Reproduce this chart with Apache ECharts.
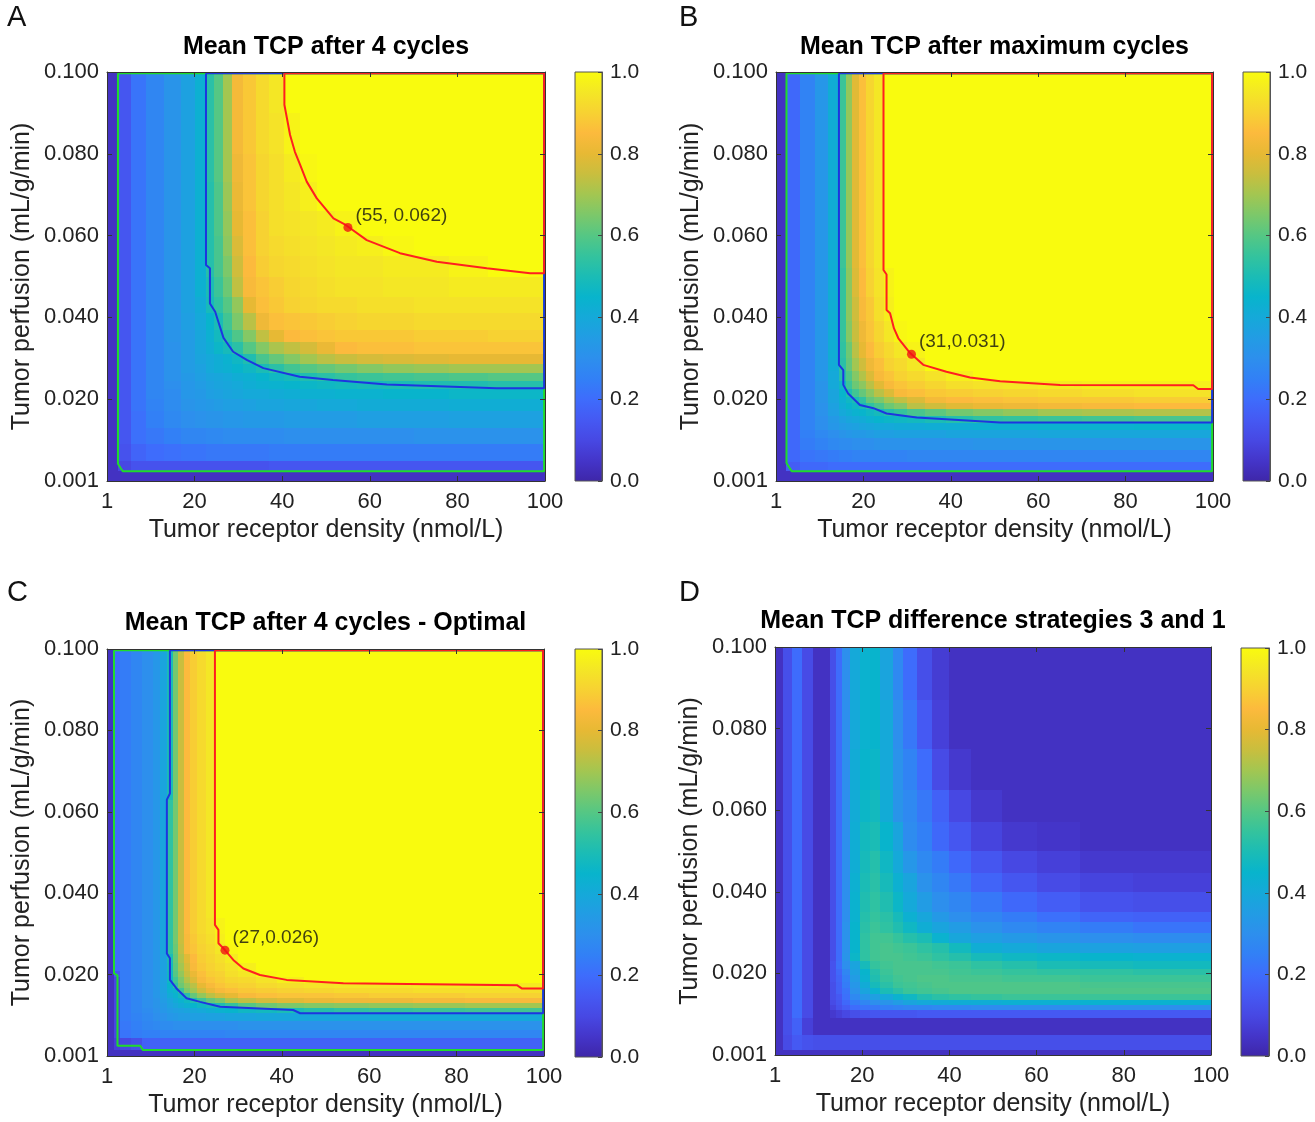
<!DOCTYPE html>
<html>
<head>
<meta charset="utf-8">
<title>Mean TCP maps</title>
<script src="https://cdn.jsdelivr.net/npm/echarts@6/dist/echarts.min.js"></script>
<style>
  html, body { margin: 0; background: #fff; }
  #chart { width: 1315px; height: 1122px; }
</style>
</head>
<body>
<div id="chart"></div>
<script>
// ---- axis ticks ----
const xTickLabels = ['1', '20', '40', '60', '80', '100'];
const yTickLabels = ['0.001', '0.020', '0.040', '0.060', '0.080', '0.100'];
const cbTickLabels = ['0.0', '0.2', '0.4', '0.6', '0.8', '1.0'];

// ---- panel A: mean TCP after 4 cycles (values in %, rows top -> bottom) ----
const xEdgesA = [0, 2.5, 5.5, 9, 13, 17, 20, 22.5, 24.5, 26.5, 28.5, 31, 34, 37, 40.5, 44, 48, 52, 57, 63, 70, 78, 87, 100];
const yEdgesA = [0, 0.0025, 0.005, 0.009, 0.013, 0.017, 0.02, 0.0225, 0.0245, 0.0265, 0.0285, 0.031, 0.034, 0.037, 0.041, 0.045, 0.05, 0.055, 0.06, 0.066, 0.073, 0.08, 0.09, 0.1];
const tcpA = [
  [4,14,22,27,32,37,43,53,60,70,83,88,92,95,100,100,100,100,100,100,100,100,100],
  [4,14,22,27,32,37,43,53,60,70,83,88,92,94,98,100,100,100,100,100,100,100,100],
  [4,14,22,27,32,37,43,53,60,70,82,87,91,93,96,99,100,100,100,100,100,100,100],
  [4,14,22,27,32,37,43,52,59,69,81,87,91,93,95,97,100,100,100,100,100,100,100],
  [4,14,22,27,32,37,43,52,59,68,80,86,90,93,94,95,96,98,100,100,100,100,100],
  [4,14,22,27,32,37,43,52,58,67,78,86,90,92,93,94,95,96,97,99,100,100,100],
  [4,14,22,27,32,37,43,52,58,65,76,85,89,91,92,93,94,95,95,96,96,98,100],
  [4,14,22,27,32,37,43,50,56,63,74,84,87,89,91,92,93,94,94,95,95,96,96],
  [4,14,22,27,32,37,41,49,54,60,68,80,86,88,90,91,92,92,93,93,94,94,94],
  [4,14,22,27,32,36,40,45,50,57,65,73,82,86,87,88,89,90,91,91,92,92,92],
  [4,14,22,27,32,35,39,43,48,53,59,66,74,80,85,86,87,88,88,88,89,89,90],
  [4,14,22,27,31,35,39,42,46,49,53,60,66,71,74,77,81,85,86,86,87,87,87],
  [4,14,22,27,31,35,38,40,42,44,47,51,58,62,66,70,73,75,77,78,79,80,80],
  [4,14,22,27,31,35,37,40,42,43,45,47,50,53,57,60,62,64,66,68,69,70,70],
  [4,14,22,27,31,34,36,38,39,40,42,43,45,47,49,51,53,55,56,57,58,59,60],
  [4,14,22,27,30,33,35,37,38,39,40,42,43,44,45,46,47,48,49,50,51,51,52],
  [4,14,22,27,29,33,34,36,37,38,39,40,40,41,42,43,43,44,44,45,45,46,46],
  [4,14,22,26,29,32,33,34,35,36,36,37,38,38,39,39,40,40,41,41,41,42,42],
  [4,14,21,25,28,30,31,32,32,33,33,34,34,34,35,35,35,35,36,36,36,37,37],
  [4,14,21,23,25,27,27,28,28,29,29,29,29,29,30,30,30,30,30,30,31,31,31],
  [4,13,18,20,21,22,22,23,23,23,23,23,23,24,24,24,24,24,24,24,24,24,24],
  [4,10,13,13,13,13,13,13,13,13,13,13,13,14,14,14,14,14,14,14,14,14,14],
  [4,4,4,4,4,4,4,4,4,4,4,4,4,4,4,4,4,4,4,4,4,4,4]
];
const greenA = [[2.5,0.0997],[2.5,0.0042],[3.2,0.003],[3.6,0.0024],[99.8,0.0024],[99.8,0.0997],[2.5,0.0997]];
const blueA = [[22.6,0.0997],[22.6,0.0528],[23.5,0.052],[23.5,0.0434],[24.7,0.0414],[25.4,0.039],[26.6,0.035],[28.8,0.0316],[31.9,0.0296],[35.7,0.0276],[44,0.0255],[51.6,0.0247],[63.9,0.0236],[89,0.0227],[99.8,0.0227],[99.8,0.0997],[22.6,0.0997]];
const redA = [[40.5,0.0997],[40.5,0.092],[41.8,0.0846],[42.9,0.0805],[44.1,0.0773],[45.6,0.0732],[47.9,0.0691],[51.7,0.0642],[54.5,0.0626],[59.3,0.0589],[66.9,0.0557],[75.3,0.0536],[86.7,0.052],[96.6,0.0508],[99.8,0.0508],[99.8,0.0997],[40.5,0.0997]];
const pointA = [55, 0.062];

// ---- panel B: mean TCP after maximum cycles ----
const xEdgesB = [0, 2.4, 5.5, 9, 12, 14.4, 16, 17.5, 19, 20.5, 22.5, 24.6, 27, 30, 34, 39, 45, 52, 60, 70, 82, 100];
const yEdgesB = [0, 0.0024, 0.0047, 0.0075, 0.0105, 0.0125, 0.0143, 0.016, 0.0175, 0.019, 0.0205, 0.0225, 0.0245, 0.027, 0.03, 0.034, 0.039, 0.045, 0.052, 0.06, 0.07, 0.085, 0.1];
const tcpB = [
  [4,19,26,33,42,56,68,79,86,91,95,100,100,100,100,100,100,100,100,100,100],
  [4,19,26,33,42,56,68,79,86,91,95,100,100,100,100,100,100,100,100,100,100],
  [4,19,26,33,42,56,68,79,86,91,95,100,100,100,100,100,100,100,100,100,100],
  [4,19,26,33,42,56,68,79,86,91,95,100,100,100,100,100,100,100,100,100,100],
  [4,19,26,33,42,55,67,78,85,90,94,98,100,100,100,100,100,100,100,100,100],
  [4,19,26,33,42,55,67,76,84,88,93,97,100,100,100,100,100,100,100,100,100],
  [4,19,26,33,42,55,66,75,82,87,91,95,99,100,100,100,100,100,100,100,100],
  [4,19,26,33,42,54,63,73,80,85,89,92,95,98,100,100,100,100,100,100,100],
  [4,19,26,33,41,53,62,70,76,82,86,90,92,95,100,100,100,100,100,100,100],
  [4,19,26,33,40,52,59,66,72,78,84,87,90,92,94,97,100,100,100,100,100],
  [4,19,26,32,40,47,56,63,67,73,79,84,87,89,91,93,94,95,96,97,97],
  [4,19,26,32,38,45,51,57,62,67,73,78,84,86,88,89,90,91,92,93,94],
  [4,19,26,32,38,43,47,50,54,62,65,70,74,78,83,85,86,87,88,88,89],
  [4,19,26,31,37,42,45,47,50,54,58,63,66,73,76,79,81,82,83,84,85],
  [4,19,26,31,36,40,42,44,45,47,49,52,55,58,61,64,66,68,70,71,72],
  [4,19,26,30,34,37,39,40,41,43,45,46,47,48,50,52,54,55,56,57,58],
  [4,19,26,30,33,35,36,37,38,39,40,40,41,41,42,42,43,43,44,44,45],
  [4,19,25,28,30,32,33,34,34,35,36,36,37,37,37,38,38,38,39,39,39],
  [4,19,24,26,28,29,29,30,30,30,31,31,31,31,31,31,32,32,32,32,32],
  [4,19,22,23,24,25,25,26,26,26,26,26,26,27,27,27,27,27,27,27,27],
  [4,16,19,19,20,20,20,20,20,20,20,20,20,20,20,20,20,20,20,20,20],
  [4,4,4,4,4,4,4,4,4,4,4,4,4,4,4,4,4,4,4,4,4]
];
const greenB = [[2.4,0.0997],[2.4,0.0044],[3.6,0.0024],[99.8,0.0024],[99.8,0.0997],[2.4,0.0997]];
const blueB = [[14.4,0.0997],[14.4,0.0284],[15.4,0.0271],[15.4,0.0235],[16.5,0.0214],[19.2,0.0186],[22.3,0.0178],[25.3,0.0165],[32.2,0.0155],[51.3,0.0143],[99.8,0.0143],[99.8,0.0997],[14.4,0.0997]];
const redB = [[24.6,0.0997],[24.6,0.0516],[25.3,0.0505],[25.3,0.0418],[26.1,0.041],[27,0.0373],[28,0.0349],[30.5,0.0315],[33.7,0.0284],[39,0.0267],[44.4,0.0253],[51.3,0.0244],[65,0.0235],[95.5,0.0234],[96.6,0.0225],[99.8,0.0225],[99.8,0.0997],[24.6,0.0997]];
const pointB = [31, 0.031];

// ---- panel C: mean TCP after 4 cycles - optimal ----
const xEdgesC = [0, 1.6, 3, 5.5, 8, 10.5, 12.2, 13.7, 15, 16.3, 17.6, 19, 20.7, 22.6, 24.7, 27, 30, 34, 39, 45, 52, 60, 70, 82, 100];
const yEdgesC = [0, 0.0015, 0.0043, 0.0065, 0.0085, 0.0105, 0.0117, 0.0129, 0.0142, 0.0155, 0.0166, 0.018, 0.0195, 0.021, 0.0228, 0.025, 0.0275, 0.03, 0.034, 0.039, 0.045, 0.053, 0.063, 0.075, 0.087, 0.1];
const tcpC = [
  [4,20,24,27,30,33,38,50,64,75,85,89,92,95,100,100,100,100,100,100,100,100,100,100],
  [4,20,24,27,30,33,38,50,64,75,85,89,92,95,100,100,100,100,100,100,100,100,100,100],
  [4,20,24,27,30,33,38,50,64,75,85,89,92,95,100,100,100,100,100,100,100,100,100,100],
  [4,20,24,27,30,33,38,54,64,75,85,89,92,95,100,100,100,100,100,100,100,100,100,100],
  [4,20,24,27,30,33,38,54,64,75,85,89,92,95,100,100,100,100,100,100,100,100,100,100],
  [4,20,24,27,30,33,38,54,64,75,85,89,92,95,100,100,100,100,100,100,100,100,100,100],
  [4,20,24,27,30,33,38,54,64,75,85,89,92,95,100,100,100,100,100,100,100,100,100,100],
  [4,20,24,27,30,33,38,54,64,75,85,89,92,94,98,100,100,100,100,100,100,100,100,100],
  [4,20,24,27,30,33,38,54,64,75,84,88,91,93,97,100,100,100,100,100,100,100,100,100],
  [4,20,24,27,30,33,38,54,63,74,84,87,90,92,95,99,100,100,100,100,100,100,100,100],
  [4,20,24,27,30,33,37,50,62,72,79,85,89,91,93,96,100,100,100,100,100,100,100,100],
  [4,20,24,27,30,33,37,49,61,70,77,84,88,90,92,94,97,100,100,100,100,100,100,100],
  [4,14,24,27,30,33,37,48,60,68,75,81,86,89,90,93,95,99,100,100,100,100,100,100],
  [4,10,24,27,30,33,37,47,57,65,72,78,84,87,89,91,92,94,97,100,100,100,100,100],
  [4,10,24,27,30,33,37,45,54,63,68,73,80,84,87,89,90,92,93,94,95,95,96,96],
  [4,10,24,27,30,33,37,43,46,56,65,70,76,81,84,86,88,89,90,91,92,92,93,93],
  [4,10,24,27,30,33,36,41,44,48,53,62,68,73,77,80,84,86,87,87,88,89,89,90],
  [4,10,24,27,30,32,35,38,41,44,47,51,57,62,65,71,74,77,79,81,82,82,83,84],
  [4,10,24,27,30,32,34,37,39,41,43,45,47,49,51,55,60,63,65,66,67,68,69,70],
  [4,10,24,27,29,31,33,35,36,37,38,39,40,42,44,45,47,48,50,52,54,55,56,57],
  [4,10,24,26,28,30,31,33,34,35,35,36,36,37,37,38,38,39,39,39,39,40,40,40],
  [4,10,23,25,27,28,29,29,30,30,30,30,30,30,30,30,31,31,31,31,31,31,31,31],
  [4,10,22,24,25,25,26,26,26,26,26,26,26,26,26,27,27,27,27,27,27,27,27,27],
  [4,8,10,12,17,17,17,17,17,17,17,17,17,17,17,17,17,17,17,17,17,17,17,17],
  [4,4,4,4,4,4,4,4,4,4,4,4,4,4,4,4,4,4,4,4,4,4,4,4]
];
const greenC = [[1.6,0.0997],[1.6,0.0203],[2.4,0.0198],[2.4,0.0025],[7.6,0.0025],[8.2,0.0015],[99.8,0.0015],[99.8,0.0997],[1.6,0.0997]];
const blueC = [[14.4,0.0997],[14.4,0.0645],[13.7,0.063],[13.7,0.0252],[14.4,0.024],[14.4,0.0187],[15.9,0.0166],[18.2,0.0142],[21.3,0.0133],[25.9,0.0121],[42.6,0.0113],[44.2,0.0105],[99.8,0.0105],[99.8,0.0997],[14.4,0.0997]];
const redC = [[24.7,0.0997],[24.7,0.0322],[25.5,0.031],[25.5,0.0277],[26.6,0.0265],[28.9,0.0236],[31.2,0.0215],[35,0.0199],[41.1,0.0187],[54.1,0.0179],[93.8,0.0174],[94.9,0.0166],[99.8,0.0166],[99.8,0.0997],[24.7,0.0997]];
const pointC = [27, 0.026];

// ---- panel D: TCP difference strategies 3 and 1 ----
const xEdgesD = [0, 1.9, 3.8, 6.1, 8.8, 12.6, 14.1, 15.3, 17.2, 19.5, 21.8, 24.1, 27, 29.4, 32.5, 36, 40, 45, 52, 60, 70, 82, 100];
const yEdgesD = [0, 0.0012, 0.0049, 0.009, 0.011, 0.0123, 0.0135, 0.015, 0.0165, 0.018, 0.0195, 0.021, 0.023, 0.025, 0.0275, 0.03, 0.0325, 0.035, 0.04, 0.0445, 0.05, 0.057, 0.065, 0.075, 0.087, 0.1];
const tcpD = [
  [4,12,20,11,4,12,20,30,40,44,45,38,28,20,12,7,4,4,4,4,4,4],
  [4,12,20,11,4,12,20,30,40,44,45,40,30,23,15,8,4,4,4,4,4,4],
  [4,12,20,11,4,12,20,30,41,45,46,40,31,26,20,11,6,4,4,4,4,4],
  [4,12,20,11,4,12,20,30,41,46,48,41,32,28,23,17,10,6,4,4,4,4],
  [4,12,20,11,4,12,20,30,42,48,50,45,38,29,25,19,14,9,6,5,4,4],
  [4,12,20,11,4,12,20,30,42,49,52,47,40,33,28,24,19,14,10,8,6,6],
  [4,12,20,11,4,12,20,30,43,50,53,49,43,38,31,27,23,18,14,11,9,8],
  [4,12,20,11,4,12,20,30,44,51,54,51,46,40,35,30,27,23,19,16,13,12],
  [4,12,20,11,4,12,20,30,44,52,55,53,49,43,39,34,30,27,24,21,18,17],
  [4,12,20,11,4,12,20,31,45,53,56,54,51,47,42,38,35,31,28,26,24,22],
  [4,12,20,11,4,12,20,31,45,54,57,57,55,52,50,44,39,36,34,32,30,29],
  [4,12,20,11,4,12,20,31,45,54,57,58,57,56,54,52,48,42,40,38,37,36],
  [4,12,20,11,4,12,20,32,46,54,57,58,58,57,56,54,52,49,47,46,45,44],
  [4,12,20,11,4,13,21,30,38,49,55,57,58,58,58,57,56,54,52,50,49,48],
  [4,12,20,11,4,13,19,27,37,45,52,56,58,58,58,58,57,56,55,54,54,53],
  [4,12,20,11,4,13,18,25,35,44,51,55,57,58,59,59,58,58,57,57,56,56],
  [4,12,20,11,4,12,17,24,33,41,49,53,56,57,58,59,59,59,59,59,58,58],
  [4,12,20,11,4,12,17,22,31,38,44,50,53,56,57,58,59,59,59,59,59,59],
  [4,12,20,11,4,12,15,21,28,33,36,40,44,47,51,53,54,55,56,56,56,56],
  [4,12,20,11,4,11,14,19,24,27,30,32,35,38,40,41,42,42,43,43,44,44],
  [4,12,20,11,4,9,13,16,20,22,23,25,26,27,27,28,28,29,29,29,30,30],
  [4,12,20,11,4,6,8,10,12,13,14,14,14,14,15,15,15,15,15,15,15,15],
  [4,12,17,8,4,4,4,4,4,4,4,4,4,4,4,4,4,4,4,4,4,4],
  [4,11,15,13,12,12,12,12,12,12,12,12,12,12,12,12,12,12,12,12,12,12],
  [4,4,4,4,4,4,4,4,4,4,4,4,4,4,4,4,4,4,4,4,4,4]
];

// parula-like colormap, 0 -> 1 in steps of 0.05
const parula = ['#3e26a8','#4435c9','#4748e3','#4559f3','#3e6cfc','#3280f6','#2d8fed','#229ce4','#15a9d9','#08b4cc',
  '#1bbcb5','#34c39d','#55c784','#7cc86a','#a3c651','#c9be3e','#e7b934','#fcba3d','#f7d232','#f4e725','#f9fb0e'];
const contourColors = ['#1fdc2a', '#1d35e0', '#ff1f1f'];

const FONT = '"Liberation Sans", Arial, Helvetica, sans-serif';
const xName = 'Tumor receptor density (nmol/L)';
const yName = 'Tumor perfusion (mL/g/min)';

const panels = [
  { letter: 'A', title: 'Mean TCP after 4 cycles', rect: [107, 72, 438, 409], bar: [575, 72, 27, 409], letterPos: [7, 3],
    titleGap: 12, xEdges: xEdgesA, yEdges: yEdgesA, rows: tcpA, lines: [greenA, blueA, redA], point: pointA, label: '(55, 0.062)' },
  { letter: 'B', title: 'Mean TCP after maximum cycles', rect: [776, 72, 437, 409], bar: [1243, 72, 27, 409], letterPos: [679, 3],
    titleGap: 12, xEdges: xEdgesB, yEdges: yEdgesB, rows: tcpB, lines: [greenB, blueB, redB], point: pointB, label: '(31,0.031)' },
  { letter: 'C', title: 'Mean TCP after 4 cycles - Optimal', rect: [107, 649, 437, 407], bar: [575, 649, 27, 408], letterPos: [7, 578],
    titleGap: 13, xEdges: xEdgesC, yEdges: yEdgesC, rows: tcpC, lines: [greenC, blueC, redC], point: pointC, label: '(27,0.026)' },
  { letter: 'D', title: 'Mean TCP difference strategies 3 and 1', rect: [775, 647, 436, 408], bar: [1241, 648, 28, 408], letterPos: [679, 578],
    titleGap: 13, xEdges: xEdgesD, yEdges: yEdgesD, rows: tcpD, lines: [], point: null, label: '' }
];

// rows are listed top -> bottom, as in the picture
function buildCells(xEdges, yEdges, rows) {
  const out = [];
  const n = rows.length;
  rows.forEach((row, r) => {
    const j = n - 1 - r;
    row.forEach((v, i) => {
      out.push([xEdges[i], xEdges[i + 1], yEdges[j], yEdges[j + 1], v]);
    });
  });
  return out;
}

function renderCell(params, api) {
  const a = api.coord([api.value(0), api.value(3)]);
  const b = api.coord([api.value(1), api.value(2)]);
  const x0 = Math.round(a[0]);
  const y0 = Math.round(a[1]);
  return {
    type: 'rect',
    shape: { x: x0, y: y0, width: Math.round(b[0]) - x0, height: Math.round(b[1]) - y0 },
    style: { fill: api.visual('color') }
  };
}

const lineStyle = { color: '#333', width: 1 };
const tickStyle = { show: true, inside: true, length: 5, lineStyle: { color: '#333', width: 1 } };

const grid = [];
const xAxis = [];
const yAxis = [];
const series = [];
const heatIdx = [];

panels.forEach((p, k) => {
  grid.push({ left: p.rect[0], top: p.rect[1], width: p.rect[2], height: p.rect[3] });

  xAxis.push({
    gridIndex: k, type: 'value', min: 0, max: 100, interval: 20, position: 'bottom', z: 10,
    axisLine: { show: true, onZero: false, lineStyle }, axisTick: tickStyle, splitLine: { show: false },
    axisLabel: { fontSize: 22, color: '#222', margin: 10, formatter: v => xTickLabels[Math.round(v / 20)] },
    name: xName, nameLocation: 'middle', nameGap: 37,
    nameTextStyle: { fontSize: 25, color: '#222', fontFamily: FONT }
  });
  xAxis.push({
    gridIndex: k, type: 'value', min: 0, max: 100, interval: 20, position: 'top', z: 10,
    axisLine: { show: true, onZero: false, lineStyle }, axisTick: tickStyle, splitLine: { show: false },
    axisLabel: { show: false },
    name: p.title, nameLocation: 'middle', nameGap: p.titleGap,
    nameTextStyle: { fontSize: 25, fontWeight: 'bold', color: '#000', fontFamily: FONT }
  });
  yAxis.push({
    gridIndex: k, type: 'value', min: 0, max: 0.1, interval: 0.02, position: 'left', z: 10,
    axisLine: { show: true, onZero: false, lineStyle }, axisTick: tickStyle, splitLine: { show: false },
    axisLabel: { fontSize: 22, color: '#222', margin: 8, formatter: v => yTickLabels[Math.round(v / 0.02)] },
    name: yName, nameLocation: 'middle', nameGap: 72,
    nameTextStyle: { fontSize: 25, color: '#222', fontFamily: FONT }
  });
  yAxis.push({
    gridIndex: k, type: 'value', min: 0, max: 0.1, interval: 0.02, position: 'right', z: 10,
    axisLine: { show: true, onZero: false, lineStyle }, axisTick: tickStyle, splitLine: { show: false },
    axisLabel: { show: false }
  });

  series.push({
    type: 'custom', name: 'TCP ' + p.letter, xAxisIndex: 2 * k, yAxisIndex: 2 * k,
    renderItem: renderCell, data: buildCells(p.xEdges, p.yEdges, p.rows),
    encode: { x: [0, 1], y: [2, 3] }, clip: true, silent: true, z: 1
  });
  heatIdx.push(series.length - 1);

  p.lines.forEach((pts, i) => {
    series.push({
      type: 'line', xAxisIndex: 2 * k, yAxisIndex: 2 * k, data: pts,
      showSymbol: false, silent: true, z: 3,
      lineStyle: { color: contourColors[i], width: 2 }
    });
  });

  if (p.point) {
    series.push({
      type: 'scatter', xAxisIndex: 2 * k, yAxisIndex: 2 * k, data: [p.point],
      symbolSize: 9, z: 4, silent: true,
      itemStyle: { color: '#f01414' },
      label: {
        show: true, position: 'right', distance: 3, offset: [0, -12],
        formatter: p.label, fontSize: 19, color: '#111', fontFamily: FONT
      }
    });
  }
});

// colorbars
const barGradient = new echarts.graphic.LinearGradient(0, 1, 0, 0,
  parula.map((c, i) => ({ offset: i / (parula.length - 1), color: c })));

panels.forEach((p, k) => {
  grid.push({
    left: p.bar[0], top: p.bar[1], width: p.bar[2], height: p.bar[3],
    show: true, backgroundColor: barGradient, borderColor: '#555', borderWidth: 1
  });
  xAxis.push({ gridIndex: 4 + k, type: 'value', min: 0, max: 1, show: false });
  yAxis.push({
    gridIndex: 4 + k, type: 'value', min: 0, max: 1, interval: 0.2, position: 'right', z: 10,
    axisLine: { show: true, onZero: false, lineStyle: { color: '#555', width: 1 } },
    axisTick: { show: true, inside: true, length: 4, lineStyle: { color: '#444' } },
    splitLine: { show: false },
    axisLabel: { fontSize: 21, color: '#222', margin: 8, formatter: v => cbTickLabels[Math.round(v / 0.2)] }
  });
});

const chart = echarts.init(document.getElementById('chart'));
chart.setOption({
  animation: false,
  backgroundColor: '#fff',
  textStyle: { fontFamily: FONT },
  grid,
  xAxis,
  yAxis,
  visualMap: {
    type: 'continuous', show: false, min: 0, max: 100, dimension: 4,
    seriesIndex: heatIdx, inRange: { color: parula }
  },
  graphic: panels.map(p => ({
    type: 'text', left: p.letterPos[0], top: p.letterPos[1],
    style: { text: p.letter, font: '29px ' + FONT, fill: '#111' }
  })),
  series
});
</script>
</body>
</html>
